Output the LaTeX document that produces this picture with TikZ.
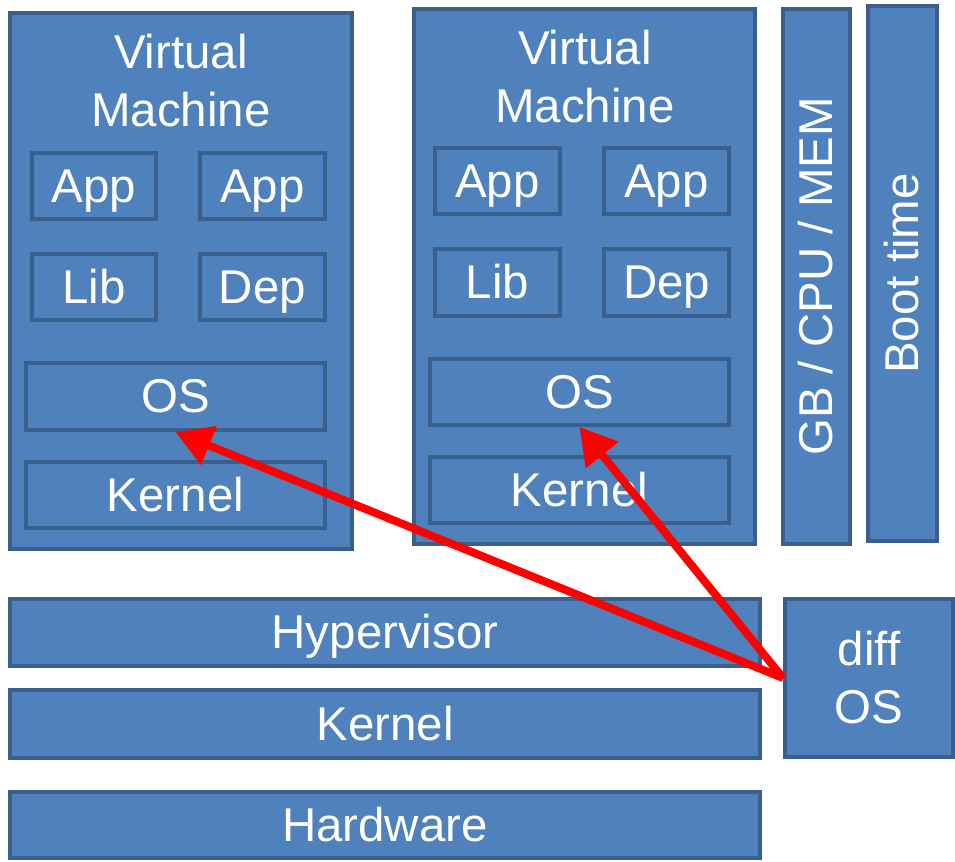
\documentclass[tikz,border=0pt]{standalone}
\usepackage{fontspec}
\setmainfont{Liberation Sans}
\usetikzlibrary{arrows.meta}
\definecolor{boxfill}{HTML}{4F81BD}
\definecolor{boxline}{HTML}{3A5F8C}
\tikzset{
  box/.style={draw=boxline, fill=boxfill, line width=4*\u, inner sep=0pt, text=white,
    text height=24pt, text depth=5.5pt},
  redarrow/.style={draw=red, line width=8*\u, -{Triangle[length=36*\u, width=40*\u]}},
}
\def\u{0.02cm}
\begin{document}
\begin{tikzpicture}[x=0.02cm, y=-0.02cm, font=\fontsize{27}{33}\selectfont]
  \useasboundingbox (0,0) rectangle (955,861);
  % first virtual machine
  \node[box, minimum width=342*\u, minimum height=536*\u] (vmA) at (181,281) {};
  \node[text=white, align=center] (vmAtitle) at (181,81) {Virtual\\Machine};
  \node[box, minimum width=124*\u, minimum height=66*\u] (appAa) at (94,186) {App};
  \node[box, minimum width=125*\u, minimum height=66*\u] (appAb) at (262.5,186) {App};
  \node[box, minimum width=124*\u, minimum height=66*\u] (libA) at (94,287) {Lib};
  \node[box, minimum width=125*\u, minimum height=66*\u] (depA) at (262.5,287) {Dep};
  \node[box, minimum width=299*\u, minimum height=67*\u] (osA) at (175.5,396.5) {OS};
  \node[box, minimum width=299*\u, minimum height=66*\u] (kernA) at (175.5,495) {Kernel};
  % second virtual machine
  \node[box, minimum width=341*\u, minimum height=535*\u] (vmB) at (584.5,276.5) {};
  \node[text=white, align=center] (vmBtitle) at (585,77) {Virtual\\Machine};
  \node[box, minimum width=125*\u, minimum height=66*\u] (appBa) at (497.5,181) {App};
  \node[box, minimum width=125*\u, minimum height=66*\u] (appBb) at (666.5,181) {App};
  \node[box, minimum width=125*\u, minimum height=67*\u] (libB) at (497.5,282.5) {Lib};
  \node[box, minimum width=125*\u, minimum height=67*\u] (depB) at (666.5,282.5) {Dep};
  \node[box, minimum width=299*\u, minimum height=66*\u] (osB) at (579.5,392) {OS};
  \node[box, minimum width=299*\u, minimum height=66*\u] (kernB) at (579.5,490) {Kernel};
  % side bars
  \node[box, minimum width=535*\u, minimum height=67*\u, rotate=90] (gb) at (816.5,276.5) {GB / CPU / MEM};
  \node[box, minimum width=535*\u, minimum height=69*\u, rotate=90] (boot) at (902.5,273.5) {Boot time};
  % host stack
  \node[box, minimum width=750*\u, minimum height=67*\u] (hyp) at (385,632.5) {Hypervisor};
  \node[box, minimum width=750*\u, minimum height=68*\u] (kern) at (385,724) {Kernel};
  \node[box, minimum width=750*\u, minimum height=66*\u] (hw) at (385,825) {Hardware};
  \node[box, minimum width=168*\u, minimum height=158*\u, align=center, text height=, text depth=] (dos) at (869,678) {diff\\OS};
  % arrows
  \draw[redarrow] (dos.west) -- (osA.south);
  \draw[redarrow] (dos.west) -- (osB.south);
\end{tikzpicture}
\end{document}
